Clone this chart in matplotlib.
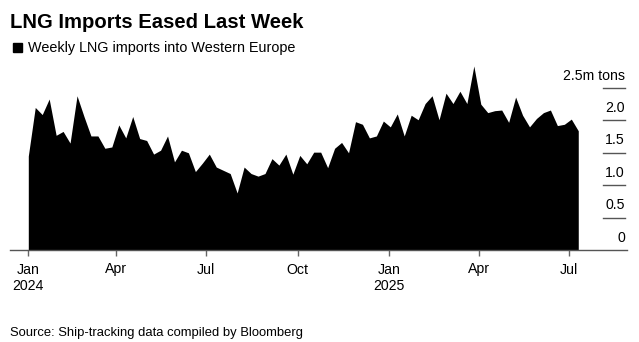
import matplotlib
matplotlib.use("Agg")
import matplotlib.pyplot as plt
import matplotlib.dates as mdates
import matplotlib.transforms as mtransforms
import pandas as pd
import numpy as np

plt.rcParams['font.family'] = ['Liberation Sans', 'DejaVu Sans']

# ---- data ----
start_date = "2024-01-04"
imports_mt = [1.45, 2.20, 2.09, 2.33, 1.77, 1.83, 1.65, 2.38, 2.06, 1.76,
              1.76, 1.57, 1.59, 1.93, 1.73, 2.06, 1.72, 1.69, 1.48, 1.54,
              1.76, 1.36, 1.54, 1.50, 1.21, 1.34, 1.48, 1.28, 1.23, 1.18,
              0.88, 1.28, 1.18, 1.14, 1.18, 1.41, 1.31, 1.48, 1.17, 1.46,
              1.33, 1.51, 1.51, 1.27, 1.57, 1.66, 1.50, 1.98, 1.94, 1.73,
              1.76, 1.99, 1.90, 2.10, 1.76, 2.08, 2.01, 2.26, 2.38, 2.01,
              2.42, 2.26, 2.45, 2.26, 2.84, 2.25, 2.12, 2.15, 2.16, 1.97,
              2.36, 2.08, 1.90, 2.03, 2.12, 2.16, 1.92, 1.94, 2.02, 1.84]
dates = pd.date_range(start_date, periods=len(imports_mt), freq="7D")

xtick_dates = ["2024-01-04", "2024-04-01", "2024-07-01", "2024-10-01",
               "2025-01-01", "2025-04-01", "2025-07-01"]
xtick_labels = ["Jan\n2024", "Apr", "Jul", "Oct", "Jan\n2025", "Apr", "Jul"]
ytick_values = [0, 0.5, 1.0, 1.5, 2.0, 2.5]
ytick_labels = ["0", "0.5", "1.0", "1.5", "2.0", "2.5m tons"]

title = "LNG Imports Eased Last Week"
subtitle = "Weekly LNG imports into Western Europe"
source = "Source: Ship-tracking data compiled by Bloomberg"

# ---- figure ----
W, H = 639, 342
fig = plt.figure(figsize=(W / 100, H / 100), dpi=100)
ax_left, ax_right, ax_bottom, ax_top = 10, 627, 250, 60
ax = fig.add_axes([ax_left / W, 1 - ax_bottom / H,
                   (ax_right - ax_left) / W, (ax_bottom - ax_top) / H])

x = mdates.date2num(dates)
ax.fill_between(x, 0, imports_mt, color="black", linewidth=0)

jan1 = mdates.date2num(pd.Timestamp("2024-01-01"))
ax.set_xlim(jan1 - 15.4, jan1 + 605)
ax.set_ylim(0, (ax_bottom - ax_top) / 64.8)

for s in ["top", "right", "left"]:
    ax.spines[s].set_visible(False)
ax.spines["bottom"].set_color("#555555")
ax.spines["bottom"].set_linewidth(1.0)

ax.set_yticks([])
ax.set_xticks(mdates.date2num(pd.to_datetime(xtick_dates)))
ax.set_xticklabels(xtick_labels, fontsize=10.2, color="black", linespacing=1.25)
ax.tick_params(axis="x", direction="out", length=4, width=1, color="#666666", pad=5)

# right-side value labels with short rules
trans = mtransforms.blended_transform_factory(ax.transAxes, ax.transData)
x0 = (603 - ax_left) / (ax_right - ax_left)
x1 = (625 - ax_left) / (ax_right - ax_left)
for v, lab in zip(ytick_values, ytick_labels):
    if v > 0:
        ax.plot([x0, x1], [v, v], transform=trans, color="#555555", lw=1.0,
                clip_on=False)
    ax.annotate(lab, xy=(x1, v), xycoords=trans, xytext=(0, 6),
                textcoords="offset points", ha="right", va="baseline",
                fontsize=10.2, color="black")

# titles
fig.text(10 / W, 1 - 28 / H, title, fontsize=14.6, fontweight="bold",
         ha="left", va="baseline")
fig.patches.append(matplotlib.patches.Rectangle(
    (13 / W, 1 - 52 / H), 8.5 / W, 8.5 / H, transform=fig.transFigure,
    color="black"))
fig.text(28 / W, 1 - 52 / H, subtitle, fontsize=10.4, ha="left", va="baseline")
fig.text(10 / W, 1 - 336 / H, source, fontsize=9.4, ha="left", va="baseline")

fig.savefig("out.png", dpi=100)
